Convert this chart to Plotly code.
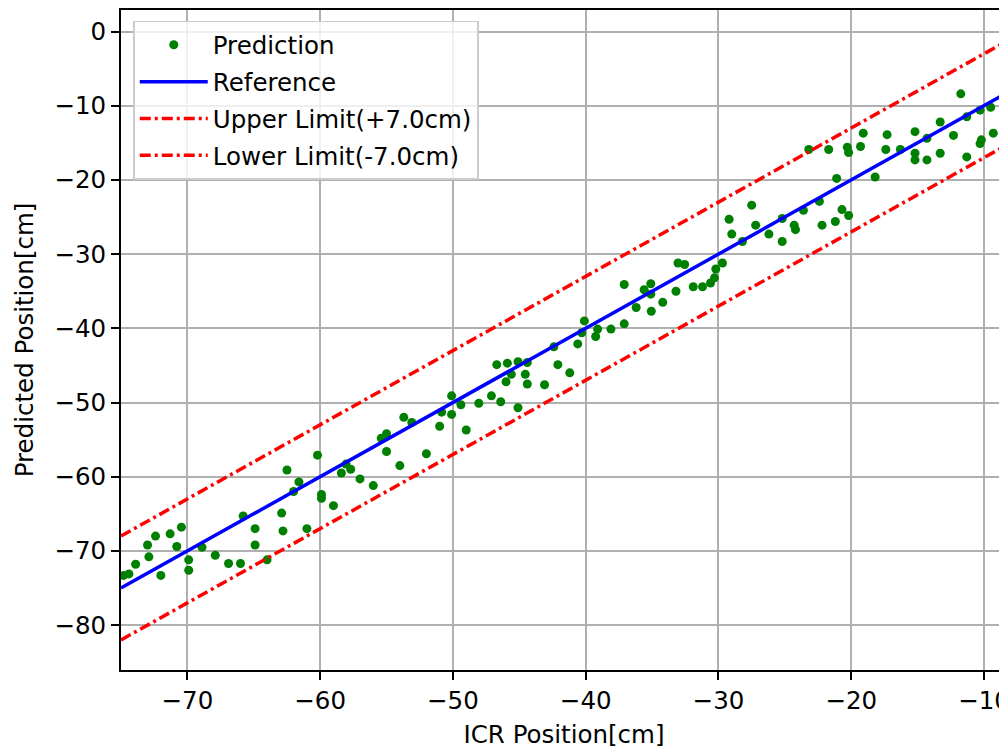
import plotly.graph_objects as go

# ICR position (x) and predicted position (y)
icr_x = [-74.8, -74.4, -73.9, -73.0, -72.9, -72.4, -72.0, -71.3, -70.8, -70.45,
         -69.9, -69.9, -68.9, -67.9, -66.9, -66.0, -65.8, -64.9, -64.9, -64.0,
         -62.9, -62.8, -62.5, -62.0, -61.6, -61.0, -60.2, -59.9, -59.9, -59.0,
         -58.4, -58.05, -57.7, -57.0, -56.0, -55.4, -55.0, -55.0, -54.0, -53.7,
         -53.1, -52.0, -51.0, -50.85, -50.1, -50.1, -49.4, -49.0, -48.05, -47.1,
         -46.7, -46.4, -46.0, -45.9, -45.6, -45.1, -45.1, -44.55, -44.4, -44.4,
         -43.1, -42.4, -42.1, -41.2, -40.6, -40.3, -40.1, -39.25, -39.1, -38.1,
         -37.1, -37.1, -36.2, -35.6, -35.1, -35.1, -35.06, -34.2, -33.2, -33.05,
         -32.55, -31.9, -31.2, -30.6, -30.3, -30.2, -29.7, -29.2, -29.0, -28.2,
         -27.5, -27.2, -26.2, -25.2, -25.2, -24.3, -24.2, -23.6, -23.2, -22.4,
         -22.2, -21.7, -21.2, -21.1, -20.7, -20.3, -20.2, -20.2, -19.3, -19.1,
         -18.2, -17.4, -17.3, -16.3, -15.2, -15.2, -15.2, -14.3, -14.3, -13.3,
         -13.3, -12.3, -11.75, -11.3, -11.3, -10.3, -10.2, -10.3, -9.5, -9.3,
         -8.5, -8.5]
pred_y = [-73.3, -73.1, -71.8, -69.2, -70.8, -68.0, -73.3, -67.7, -69.4, -66.8,
          -71.2, -72.6, -69.5, -70.6, -71.7, -71.7, -65.3, -67.0, -69.2, -71.2,
          -64.9, -67.3, -59.1, -62.0, -60.7, -67.0, -57.1, -62.4, -62.9, -63.9,
          -59.5, -58.3, -59.0, -60.3, -61.2, -54.8, -54.2, -56.6, -58.5, -52.0,
          -52.7, -56.9, -53.2, -51.3, -49.1, -51.6, -50.3, -53.7, -50.1, -49.1,
          -44.9, -49.9, -47.2, -44.7, -46.2, -44.5, -50.7, -46.2, -47.5, -44.6,
          -47.6, -42.5, -44.9, -46.0, -42.1, -40.6, -39.0, -41.1, -40.1, -40.1,
          -39.4, -34.1, -37.2, -34.8, -34.0, -35.4, -37.7, -36.5, -35.0, -31.2,
          -31.4, -34.4, -34.4, -33.9, -33.2, -32.0, -31.2, -25.3, -27.3, -28.3,
          -23.4, -26.1, -27.3, -28.3, -25.2, -26.1, -26.7, -24.1, -15.9, -22.9,
          -26.1, -15.9, -25.6, -19.8, -24.0, -15.6, -16.3, -24.8, -15.5, -13.7,
          -19.6, -15.9, -13.9, -15.9, -13.5, -16.4, -17.3, -17.3, -14.4, -12.2,
          -16.4, -14.0, -8.4, -11.5, -16.9, -10.6, -14.6, -15.1, -10.2, -13.7,
          -9.2, -11.5]

ref_x = [-75.0, -8.0]
tolerance = 7.0
ref_y = list(ref_x)
upper_y = [v + tolerance for v in ref_x]
lower_y = [v - tolerance for v in ref_x]

x_ticks = [-70, -60, -50, -40, -30, -20, -10]
y_ticks = [0, -10, -20, -30, -40, -50, -60, -70, -80]

FONT = "DejaVu Sans"
FS = 24.5
DASH = "11px,4px,3px,4px"

fig = go.Figure()
fig.add_trace(go.Scatter(x=icr_x, y=pred_y, mode="markers", name="Prediction",
                         legendgroup="a",
                         marker=dict(color="green", size=9, line=dict(width=0))))
fig.add_trace(go.Scatter(x=ref_x, y=ref_y, mode="lines", name="Reference",
                         legendgroup="b",
                         line=dict(color="blue", width=3.5)))
fig.add_trace(go.Scatter(x=ref_x, y=upper_y, mode="lines",
                         name=f"Upper Limit(+{tolerance:.1f}cm)", legendgroup="c",
                         line=dict(color="red", width=3.5, dash=DASH)))
fig.add_trace(go.Scatter(x=ref_x, y=lower_y, mode="lines",
                         name=f"Lower Limit(-{tolerance:.1f}cm)", legendgroup="d",
                         line=dict(color="red", width=3.5, dash=DASH)))

axis_common = dict(
    showgrid=True, gridcolor="#b0b0b0", gridwidth=1.6, automargin=False,
    zeroline=False, showline=True, linecolor="black", linewidth=1.8,
    ticks="outside", ticklen=8, tickwidth=1.8, tickcolor="black",
    ticklabeloverflow="allow",
    tickfont=dict(family=FONT, size=FS, color="black"),
)

fig.update_xaxes(range=[-75.0, -8.27], tickvals=x_ticks, mirror=True,
                 title=dict(text="ICR Position[cm]", font=dict(family=FONT, size=FS, color="black"),
                            standoff=12),
                 ticklabelstandoff=0, **axis_common)
fig.update_yaxes(range=[-86.05, 2.9], tickvals=y_ticks,
                 title=dict(text="Predicted Position[cm]", font=dict(family=FONT, size=FS, color="black"),
                            standoff=14),
                 ticklabelstandoff=0, **axis_common)

# the page places the figure 8px from the top-left corner
fig.update_layout(
    width=999, height=743,
    margin=dict(l=113, r=0, t=2, b=81, autoexpand=False),
    plot_bgcolor="white", paper_bgcolor="white",
    font=dict(family=FONT, size=FS, color="black"),
    legend=dict(x=0.0135, y=0.984, xanchor="left", yanchor="top",
                bgcolor="rgba(255,255,255,0.8)", bordercolor="#cccccc", borderwidth=1.8,
                tracegroupgap=2, itemwidth=68,
                font=dict(family=FONT, size=FS, color="black")),
)

fig.write_html("out.html")
